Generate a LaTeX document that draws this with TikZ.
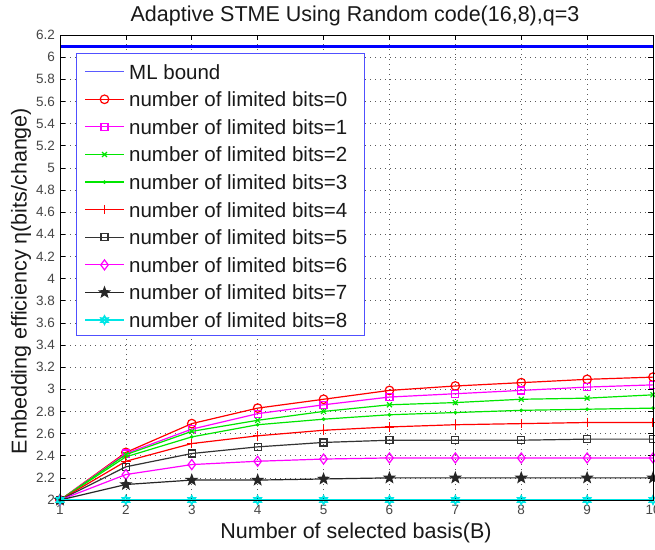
\documentclass[tikz,border=0pt]{standalone}
\usepackage{fontspec}
\setmainfont{Liberation Sans}
\usetikzlibrary{plotmarks}
\definecolor{mred}{RGB}{255,0,0}
\definecolor{mmag}{RGB}{255,0,255}
\definecolor{mgreen}{RGB}{0,230,0}
\definecolor{mcyan}{RGB}{0,230,230}
\definecolor{mblue}{RGB}{0,0,255}
\definecolor{legblue}{RGB}{80,80,255}
\definecolor{mlleg}{RGB}{90,90,255}
\definecolor{ticktext}{RGB}{70,70,70}
\definecolor{gridgray}{RGB}{90,90,90}
\pgfdeclareplotmark{fstar}{%
  \pgfpathmoveto{\pgfpointpolar{90}{1.2\pgfplotmarksize}}%
  \pgfpathlineto{\pgfpointpolar{126}{0.5\pgfplotmarksize}}%
  \pgfpathlineto{\pgfpointpolar{162}{1.2\pgfplotmarksize}}%
  \pgfpathlineto{\pgfpointpolar{198}{0.5\pgfplotmarksize}}%
  \pgfpathlineto{\pgfpointpolar{234}{1.2\pgfplotmarksize}}%
  \pgfpathlineto{\pgfpointpolar{270}{0.5\pgfplotmarksize}}%
  \pgfpathlineto{\pgfpointpolar{306}{1.2\pgfplotmarksize}}%
  \pgfpathlineto{\pgfpointpolar{342}{0.5\pgfplotmarksize}}%
  \pgfpathlineto{\pgfpointpolar{18}{1.2\pgfplotmarksize}}%
  \pgfpathlineto{\pgfpointpolar{54}{0.5\pgfplotmarksize}}%
  \pgfpathclose\pgfusepathqfillstroke}
\pgfdeclareplotmark{hexa}{%
  \pgfpathmoveto{\pgfpointpolar{90}{1.1\pgfplotmarksize}}%
  \pgfpathlineto{\pgfpointpolar{120}{0.6\pgfplotmarksize}}%
  \pgfpathlineto{\pgfpointpolar{150}{1.1\pgfplotmarksize}}%
  \pgfpathlineto{\pgfpointpolar{180}{0.6\pgfplotmarksize}}%
  \pgfpathlineto{\pgfpointpolar{210}{1.1\pgfplotmarksize}}%
  \pgfpathlineto{\pgfpointpolar{240}{0.6\pgfplotmarksize}}%
  \pgfpathlineto{\pgfpointpolar{270}{1.1\pgfplotmarksize}}%
  \pgfpathlineto{\pgfpointpolar{300}{0.6\pgfplotmarksize}}%
  \pgfpathlineto{\pgfpointpolar{330}{1.1\pgfplotmarksize}}%
  \pgfpathlineto{\pgfpointpolar{0}{0.6\pgfplotmarksize}}%
  \pgfpathlineto{\pgfpointpolar{30}{1.1\pgfplotmarksize}}%
  \pgfpathlineto{\pgfpointpolar{60}{0.6\pgfplotmarksize}}%
  \pgfpathclose\pgfusepathqstroke}
\tikzset{
  bigtext/.style={font=\fontsize{21.5}{25}\selectfont, text=black!90},
  legtext/.style={font=\fontsize{20.5}{24}\selectfont, text=black!90, anchor=west, inner sep=0pt},
  ticklab/.style={font=\fontsize{13.5}{15}\selectfont, text=ticktext, inner sep=0pt},
  gridline/.style={gridgray, line width=0.7pt, dash pattern=on 0.7pt off 4.3pt},
  sline/.style={line width=1.2pt},
  s0/.style={sline, mred, mark=o, mark size=4.3pt},
  s1/.style={sline, mmag, mark=square, mark size=3.5pt},
  s2/.style={sline, mgreen, mark=x, mark size=3.5pt},
  s3/.style={sline, mgreen, mark=*, mark size=1.2pt},
  s4/.style={sline, mred, mark=+, mark size=4.8pt},
  s5/.style={sline, black!80, mark=square, mark size=3.5pt},
  s6/.style={sline, mmag, mark=diamond, mark size=5pt},
  s7/.style={sline, black!85, mark=fstar, mark size=4.3pt},
  s8/.style={line width=1.6pt, mcyan, mark=hexa, mark size=3.7pt},
}
\begin{document}
\begin{tikzpicture}[x=1pt,y=1pt]
\useasboundingbox (0,0) rectangle (655,549);
\fill[white] (0,0) rectangle (655,549);
\node[bigtext] (title) at (355,533) {Adaptive STME Using Random code(16,8),q=3};
\node[bigtext] (xlab) at (356,16) {Number of selected basis(B)};
\node[bigtext, rotate=90] (ylab) at (21,268) {Embedding efficiency η(bits/change)};
\begin{scope}[shift={(-5.89pt,-172.4pt)}, x=65.89pt, y=110.7pt]
  % grid
  \foreach \yy in {2.2,2.4,...,6.1} \draw[gridline] (1,\yy) -- (10,\yy);
  \foreach \xx in {2,...,9} \draw[gridline] (\xx,2) -- (\xx,6.2);
  % ticks
  \foreach \yy in {2,2.2,...,6.3} {
    \draw[black, line width=0.6pt] (1,\yy) -- ++(5pt,0);
    \draw[black, line width=0.6pt] (10,\yy) -- ++(-5pt,0);
  }
  \foreach \xx in {2,...,9} {
    \draw[black, line width=0.6pt] (\xx,2) -- ++(0,5pt);
    \draw[black, line width=0.6pt] (\xx,6.2) -- ++(0,-5pt);
  }
  % tick labels
  \foreach \yy/\tt in {2/2,2.2/2.2,2.4/2.4,2.6/2.6,2.8/2.8,3/3,3.2/3.2,3.4/3.4,3.6/3.6,3.8/3.8,4/4,4.2/4.2,4.4/4.4,4.6/4.6,4.8/4.8,5/5,5.2/5.2,5.4/5.4,5.6/5.6,5.8/5.8,6/6,6.2/6.2}
    \node[ticklab, anchor=east] at ([xshift=-5pt]1,\yy) {\tt};
  \foreach \xx in {1,...,10}
    \node[ticklab, anchor=north] at ([yshift=-5pt]\xx,2) {\xx};
  % data
  \draw[s0] plot coordinates {(1,2.00) (2,2.43) (3,2.69) (4,2.83) (5,2.91) (6,2.99) (7,3.03) (8,3.06) (9,3.09) (10,3.11)};
  \draw[s1] plot coordinates {(1,2.00) (2,2.42) (3,2.64) (4,2.78) (5,2.86) (6,2.93) (7,2.96) (8,2.99) (9,3.02) (10,3.04)};
  \draw[s2] plot coordinates {(1,2.00) (2,2.41) (3,2.62) (4,2.72) (5,2.80) (6,2.86) (7,2.88) (8,2.91) (9,2.92) (10,2.95)};
  \draw[s3] plot coordinates {(1,2.00) (2,2.39) (3,2.57) (4,2.68) (5,2.73) (6,2.77) (7,2.79) (8,2.81) (9,2.82) (10,2.83)};
  \draw[s4] plot coordinates {(1,2.00) (2,2.35) (3,2.51) (4,2.58) (5,2.63) (6,2.66) (7,2.68) (8,2.69) (9,2.70) (10,2.70)};
  \draw[s5] plot coordinates {(1,2.00) (2,2.30) (3,2.42) (4,2.48) (5,2.52) (6,2.54) (7,2.54) (8,2.54) (9,2.55) (10,2.55)};
  \draw[s6] plot coordinates {(1,2.00) (2,2.23) (3,2.32) (4,2.35) (5,2.37) (6,2.38) (7,2.38) (8,2.38) (9,2.38) (10,2.38)};
  \draw[s7] plot coordinates {(1,2.00) (2,2.14) (3,2.18) (4,2.18) (5,2.19) (6,2.20) (7,2.20) (8,2.20) (9,2.20) (10,2.20)};
  \draw[s8] plot coordinates {(1,2) (2,2) (3,2) (4,2) (5,2) (6,2) (7,2) (8,2) (9,2) (10,2)};
  % ML bound
  \draw[draw=mblue, line width=2.8pt] (1,6.1) -- (10,6.1);
  % axes box
  \draw[black, line width=0.8pt] (1,2) rectangle (10,6.2);
\end{scope}
% legend
\draw[legblue, fill=white, line width=1pt] (76.7,213) rectangle (364,495);
\coordinate (a0) at (85,476.5);
\coordinate (b0) at (124,478.1);
\fill[mlleg] (a0) rectangle (b0);
\node[legtext] (t0) at (129,477.3) {ML bound};
\foreach \k/\st/\txt in {1/s0/0,2/s1/1,3/s2/2,4/s3/3,5/s4/4,6/s5/5,7/s6/6,8/s7/7,9/s8/8} {
  \coordinate (a\k) at (85,{477.3-27.6*\k});
  \coordinate (b\k) at (124,{477.3-27.6*\k});
  \draw[\st, mark=none] (a\k) -- (b\k);
  \draw[\st] plot coordinates {(104.5,{477.3-27.6*\k})};
  \node[legtext] (t\k) at (129,{477.3-27.6*\k}) {number of limited bits=\txt};
}
\end{tikzpicture}
\end{document}
